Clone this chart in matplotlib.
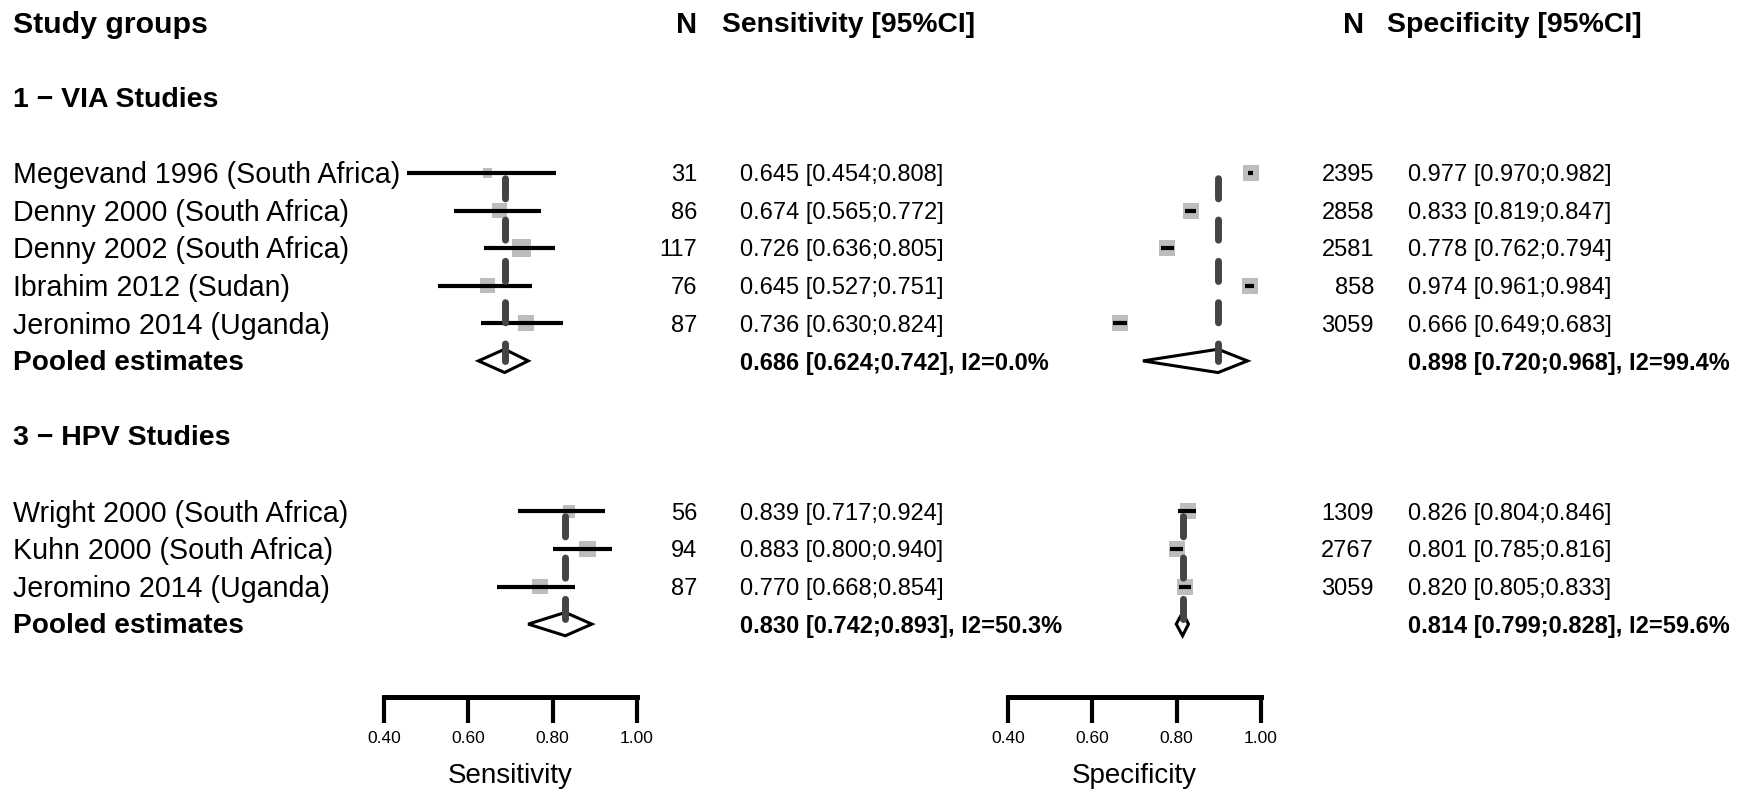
import numpy as np
import matplotlib
matplotlib.use("Agg")
import matplotlib.pyplot as plt
from matplotlib.transforms import blended_transform_factory

plt.rcParams['font.family'] = ['Liberation Sans', 'DejaVu Sans']

# data
via_studies = ["Megevand 1996 (South Africa)", "Denny 2000 (South Africa)",
               "Denny 2002 (South Africa)", "Ibrahim 2012 (Sudan)",
               "Jeronimo 2014 (Uganda)"]
via_sens_n = [31, 86, 117, 76, 87]
via_sens = [0.645, 0.674, 0.726, 0.645, 0.736]
via_sens_lo = [0.454, 0.565, 0.636, 0.527, 0.630]
via_sens_hi = [0.808, 0.772, 0.805, 0.751, 0.824]
via_spec_n = [2395, 2858, 2581, 858, 3059]
via_spec = [0.977, 0.833, 0.778, 0.974, 0.666]
via_spec_lo = [0.970, 0.819, 0.762, 0.961, 0.649]
via_spec_hi = [0.982, 0.847, 0.794, 0.984, 0.683]
via_pool_sens = [0.686, 0.624, 0.742, 0.0]   # est, lo, hi, I2
via_pool_spec = [0.898, 0.720, 0.968, 99.4]

hpv_studies = ["Wright 2000 (South Africa)", "Kuhn 2000 (South Africa)",
               "Jeromino 2014 (Uganda)"]
hpv_sens_n = [56, 94, 87]
hpv_sens = [0.839, 0.883, 0.770]
hpv_sens_lo = [0.717, 0.800, 0.668]
hpv_sens_hi = [0.924, 0.940, 0.854]
hpv_spec_n = [1309, 2767, 3059]
hpv_spec = [0.826, 0.801, 0.820]
hpv_spec_lo = [0.804, 0.785, 0.805]
hpv_spec_hi = [0.846, 0.816, 0.833]
hpv_pool_sens = [0.830, 0.742, 0.893, 50.3]
hpv_pool_spec = [0.814, 0.799, 0.828, 59.6]

ticks = [0.40, 0.60, 0.80, 1.00]

W, H = 1747, 795
fig = plt.figure(figsize=(W / 100, H / 100), dpi=100)

# rows: y pixel = 22.5 + 37.6*row
row0, rowh = 22.5, 37.6
ylim = ((H - row0) / rowh, -row0 / rowh)
axis_row = (697 - row0) / rowh
txt_shift = 0.06  # text sits a touch below the mark rows

ax_sens = fig.add_axes([384 / W, 0, 253 / W, 1])
ax_spec = fig.add_axes([1008 / W, 0, 253 / W, 1])

via_rows = np.arange(4, 4 + len(via_studies))
via_pool_row = via_rows[-1] + 1
hpv_head_row = via_pool_row + 2
hpv_rows = np.arange(hpv_head_row + 2, hpv_head_row + 2 + len(hpv_studies))
hpv_pool_row = hpv_rows[-1] + 1


def draw_group(ax, rows, est, lo, hi, sizes, pool, pool_row):
    ax.scatter(est, rows, marker='s', s=np.array(sizes) ** 2, color='#bdbdbd',
               linewidths=0, zorder=2)
    ax.hlines(rows, lo, hi, color='black', lw=3.0, zorder=3, capstyle='butt')
    e, l, h, _ = pool
    d = 0.31
    ax.fill([l, e, h, e], [pool_row, pool_row - d, pool_row, pool_row + d],
            facecolor='white', edgecolor='black', lw=2.2, zorder=3,
            joinstyle='miter')
    ax.plot([e, e], [rows[0], pool_row], color='#444444', lw=5.0,
            linestyle=(5.2, (2.9, 3.05)), dash_capstyle='round', zorder=4)


sens_size = lambda n: 0.72 * 1.7 * np.sqrt(np.array(n))
spec_size = lambda n: np.full(len(n), 0.72 * 16)

draw_group(ax_sens, via_rows, via_sens, via_sens_lo, via_sens_hi,
           sens_size(via_sens_n), via_pool_sens, via_pool_row)
draw_group(ax_sens, hpv_rows, hpv_sens, hpv_sens_lo, hpv_sens_hi,
           sens_size(hpv_sens_n), hpv_pool_sens, hpv_pool_row)
draw_group(ax_spec, via_rows, via_spec, via_spec_lo, via_spec_hi,
           spec_size(via_spec_n), via_pool_spec, via_pool_row)
draw_group(ax_spec, hpv_rows, hpv_spec, hpv_spec_lo, hpv_spec_hi,
           spec_size(hpv_spec_n), hpv_pool_spec, hpv_pool_row)

for ax, lab in [(ax_sens, "Sensitivity"), (ax_spec, "Specificity")]:
    ax.set_xlim(0.4, 1.0)
    ax.set_ylim(*ylim)
    ax.set_facecolor('none')
    for s in ['top', 'right', 'left']:
        ax.spines[s].set_visible(False)
    ax.spines['bottom'].set_position(('data', axis_row))
    ax.spines['bottom'].set_bounds(0.4, 1.0)
    ax.spines['bottom'].set_linewidth(3.6)
    ax.spines['bottom'].set_capstyle('projecting')
    ax.set_yticks([])
    ax.set_xticks(ticks)
    ax.set_xticklabels([f"{t:.2f}" for t in ticks], fontsize=12.5)
    ax.tick_params(axis='x', direction='out', length=18.5, width=3.0, pad=6)
    ax.text(0.7, (776 - row0) / rowh, lab, fontsize=20, ha='center',
            va='center')

tr = blended_transform_factory(fig.transFigure, ax_sens.transData)


def ftext(xpx, row, s, **kw):
    fig.text(xpx / W, row + txt_shift, s, transform=tr, va='center', **kw)


def stat(v):
    return f"{v[0]:.3f} [{v[1]:.3f};{v[2]:.3f}]"


# header
ftext(13, 0, "Study groups", fontsize=21.8, weight='bold')
ftext(697, 0, "N", fontsize=21, weight='bold', ha='right')
ftext(722, 0, "Sensitivity [95%CI]", fontsize=20.3, weight='bold')
ftext(1364, 0, "N", fontsize=21, weight='bold', ha='right')
ftext(1387, 0, "Specificity [95%CI]", fontsize=20.5, weight='bold')

groups = [
    ("1 \u2212 VIA Studies", via_pool_row - len(via_studies) - 2, via_rows, via_studies,
     via_sens_n, via_sens, via_sens_lo, via_sens_hi,
     via_spec_n, via_spec, via_spec_lo, via_spec_hi,
     via_pool_row, via_pool_sens, via_pool_spec),
    ("3 \u2212 HPV Studies", hpv_head_row, hpv_rows, hpv_studies,
     hpv_sens_n, hpv_sens, hpv_sens_lo, hpv_sens_hi,
     hpv_spec_n, hpv_spec, hpv_spec_lo, hpv_spec_hi,
     hpv_pool_row, hpv_pool_sens, hpv_pool_spec),
]

for (title, hrow, rows, names, sn, se, slo, shi, pn, pe, plo, phi,
     prow, psens, pspec) in groups:
    ftext(13, hrow, title, fontsize=20.5, weight='bold')
    for i, r in enumerate(rows):
        ftext(13, r, names[i], fontsize=20.6)
        ftext(697, r, str(sn[i]), fontsize=17, ha='right')
        ftext(740, r, stat((se[i], slo[i], shi[i])), fontsize=17)
        ftext(1374, r, str(pn[i]), fontsize=17, ha='right')
        ftext(1408, r, stat((pe[i], plo[i], phi[i])), fontsize=17)
    ftext(13, prow, "Pooled estimates", fontsize=20.2, weight='bold')
    ftext(740, prow, stat(psens) + f", I2={psens[3]:.1f}%", fontsize=17,
          weight='bold')
    ftext(1408, prow, stat(pspec) + f", I2={pspec[3]:.1f}%", fontsize=17,
          weight='bold')

fig.savefig("out.png", dpi=100, facecolor='white')
